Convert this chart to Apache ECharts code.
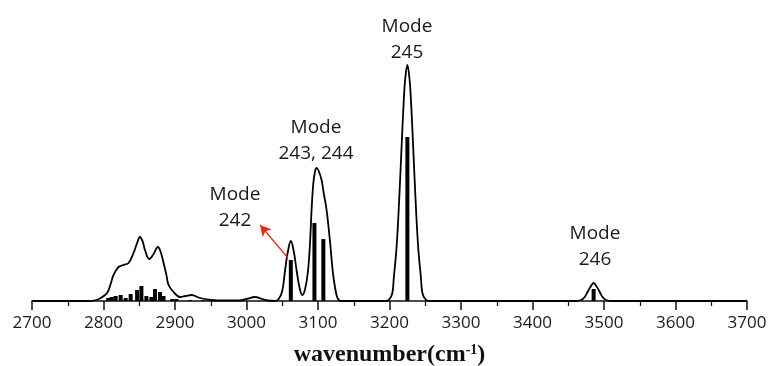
<!DOCTYPE html>
<html>
<head>
<meta charset="utf-8">
<script src="https://cdn.jsdelivr.net/npm/echarts@6/dist/echarts.min.js"></script>
<style>
  html, body { margin: 0; padding: 0; background: #fff; }
  #chart { width: 769px; height: 366px; }
</style>
</head>
<body>
<div id="chart"></div>
<script>
// broadened spectrum (wavenumber, intensity)
const curveX = [
  2700, 2780, 2790, 2796, 2805, 2810, 2814, 2821, 2828, 2835, 2842, 2847, 2851, 2855, 2858,
  2864, 2870, 2876, 2880, 2884, 2888, 2891, 2898, 2907, 2915, 2923, 2935, 2950, 2960, 2990,
  3000, 3012, 3022, 3030, 3040, 3045, 3050, 3054, 3058, 3062, 3066, 3070, 3074, 3078, 3082,
  3086, 3089, 3091, 3093.5, 3096, 3098, 3101, 3105, 3108, 3112, 3115, 3117, 3120, 3122, 3125,
  3128, 3132, 3195, 3200, 3204, 3206, 3210, 3214, 3217, 3220, 3222, 3225, 3228, 3230, 3233,
  3236, 3240, 3244, 3246, 3250, 3255, 3460, 3468, 3473, 3477, 3481, 3485.5, 3490, 3494, 3498,
  3503, 3510, 3700
];
const curveY = [
  0, 0, 1, 3, 8, 17, 26, 34, 36, 38, 48, 58, 64, 59, 51,
  42, 47, 54, 49, 38, 26, 16, 9, 4, 5, 6, 3, 1, 0.5, 0.5,
  2, 4, 2, 0.5, 0, 2, 10, 31, 50, 60, 50, 31, 14, 6, 12,
  30, 60, 91, 118, 130, 133, 130, 121, 108, 91, 72, 58, 34, 22, 9,
  2, 0, 0, 2, 8, 23, 55, 108, 156, 201, 222, 236, 222, 201, 156,
  108, 55, 23, 8, 2, 0, 0, 1, 4, 9, 14, 18, 14, 9, 4,
  1, 0, 0
];

// stick spectrum (mode frequencies, intensity)
const stickX = [
  2806.6, 2811.5, 2817, 2824, 2831, 2838, 2847, 2853, 2860, 2867, 2872, 2879, 2884,
  2896, 2902, 2921, 2939, 3062, 3095, 3107.5, 3225, 3485.5
];
const stickY = [
  3, 4, 5, 6, 3, 7, 11, 15, 5, 4, 12, 9, 5,
  2, 2, 1, 1, 41, 78, 62, 164, 12
];

const modeLabels = ['Mode\n242', 'Mode\n243, 244', 'Mode\n245', 'Mode\n246'];

const chart = echarts.init(document.getElementById('chart'));

const labelFont = '19px "Open Sans"';
const textStyleOf = (text, x, y) => ({
  type: 'text',
  x: x,
  y: y,
  style: {
    text: text,
    font: labelFont,
    fill: '#1a1a1a',
    align: 'center',
    verticalAlign: 'middle',
    lineHeight: 26
  }
});

chart.setOption({
  animation: false,
  backgroundColor: '#fff',
  grid: { left: 32, right: 22, top: 41, bottom: 65, outerBoundsMode: 'none' },
  xAxis: {
    type: 'value',
    min: 2700,
    max: 3700,
    interval: 100,
    axisLine: { show: true, onZero: false, lineStyle: { color: '#111', width: 1.5 } },
    axisTick: { show: true, length: 9, lineStyle: { color: '#111', width: 1.5 } },
    minorTick: { show: true, splitNumber: 2, length: 5, lineStyle: { color: '#111', width: 1.2 } },
    splitLine: { show: false },
    axisLabel: {
      fontFamily: 'Open Sans',
      fontSize: 17,
      color: '#1a1a1a',
      margin: 14,
      formatter: (v) => String(v)
    },
    name: '{a|wavenumber(cm}{s|-1}{a|)}',
    nameLocation: 'middle',
    nameGap: 42,
    nameTextStyle: {
      rich: {
        a: { fontFamily: 'Liberation Serif', fontWeight: 'bold', fontSize: 24, color: '#111' },
        s: { fontFamily: 'Liberation Serif', fontWeight: 'bold', fontSize: 14, color: '#111', verticalAlign: 'top', padding: [0, 0, 10, 0] }
      }
    }
  },
  yAxis: {
    type: 'value',
    min: 0,
    max: 260,
    show: false,
    splitLine: { show: false }
  },
  series: [
    {
      type: 'bar',
      data: stickX.map((x, i) => [x, stickY[i]]),
      barWidth: 4,
      itemStyle: { color: '#000' },
      z: 2
    },
    {
      type: 'line',
      data: curveX.map((x, i) => [x, curveY[i]]),
      showSymbol: false,
      smooth: 0.4,
      lineStyle: { color: '#000', width: 1.8 },
      z: 3,
      markLine: {
        silent: true,
        symbol: ['none', 'arrow'],
        symbolSize: [9, 11],
        label: { show: false },
        lineStyle: { color: '#e8281e', width: 1.2, type: 'solid' },
        data: [[{ coord: [3058, 43] }, { coord: [3019, 76] }]]
      }
    }
  ],
  graphic: [
    textStyleOf(modeLabels[0], 235, 208),
    textStyleOf(modeLabels[1], 316, 141),
    textStyleOf(modeLabels[2], 407, 40),
    textStyleOf(modeLabels[3], 595, 247)
  ]
});
</script>
</body>
</html>
